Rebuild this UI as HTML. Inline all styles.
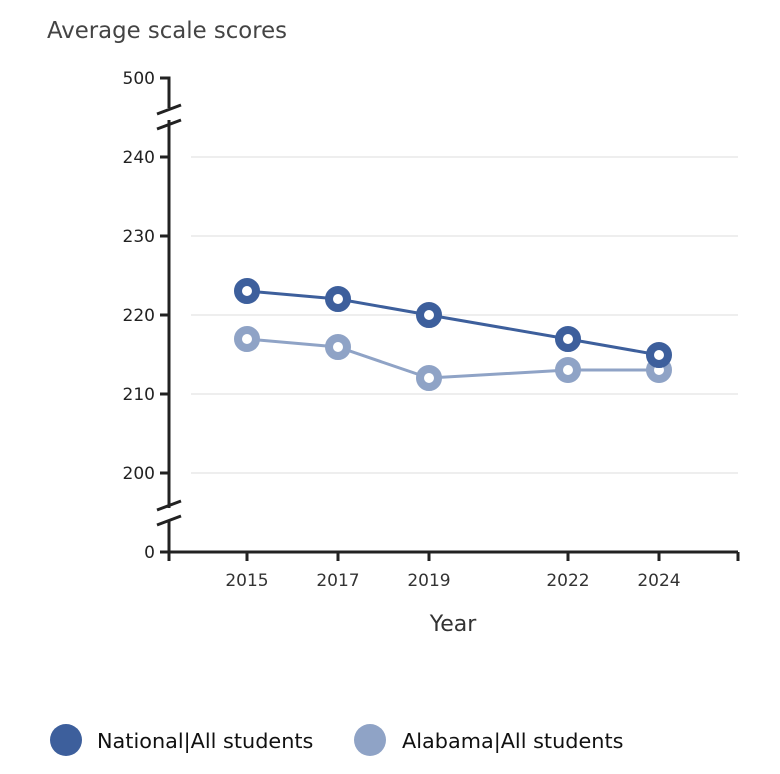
<!DOCTYPE html>
<html><head><style>body{margin:0;background:#fff}svg{display:block}</style></head>
<body>
<svg width="780" height="774" viewBox="0 0 780 774" font-family="DejaVu Sans, Liberation Sans, sans-serif">
<text x="47" y="38" font-size="22.8" fill="#444">Average scale scores</text>
<g stroke="#ddd" stroke-width="1">
<line x1="191" y1="157" x2="738" y2="157"/><line x1="191" y1="236" x2="738" y2="236"/>
<line x1="191" y1="315" x2="738" y2="315"/><line x1="191" y1="394" x2="738" y2="394"/>
<line x1="191" y1="473" x2="738" y2="473"/>
</g>
<g stroke="#222" stroke-width="3" fill="none">
<path d="M160 78 H169 V108 M169 120 V508 M169 520 V552"/>
<line x1="157" y1="114" x2="181" y2="105"/><line x1="157" y1="129" x2="181" y2="120"/>
<line x1="157" y1="510" x2="181" y2="501"/><line x1="157" y1="525" x2="181" y2="516"/>
<line x1="160" y1="157" x2="169" y2="157"/><line x1="160" y1="236" x2="169" y2="236"/>
<line x1="160" y1="315" x2="169" y2="315"/><line x1="160" y1="394" x2="169" y2="394"/>
<line x1="160" y1="473" x2="169" y2="473"/><line x1="160" y1="552" x2="738" y2="552"/>
<path d="M169 552v9M247 552v9M338 552v9M429 552v9M568 552v9M659 552v9M738 552v9"/>
</g>
<g font-size="17" fill="#222" text-anchor="end">
<text x="155" y="84">500</text><text x="155" y="163">240</text><text x="155" y="242">230</text>
<text x="155" y="321">220</text><text x="155" y="400">210</text><text x="155" y="479">200</text>
<text x="155" y="558">0</text>
</g>
<g font-size="17" fill="#333" text-anchor="middle">
<text x="247" y="586">2015</text><text x="338" y="586">2017</text><text x="429" y="586">2019</text>
<text x="568" y="586">2022</text><text x="659" y="586">2024</text>
<text x="453" y="631" font-size="22">Year</text>
</g>
<g stroke="#8fa3c6" fill="#fff">
<polyline points="247,339 338,347 429,378 568,370 659,370" stroke-width="3" fill="none"/>
<g stroke-width="8"><circle cx="247" cy="339" r="9"/><circle cx="338" cy="347" r="9"/><circle cx="429" cy="378" r="9"/><circle cx="568" cy="370" r="9"/><circle cx="659" cy="370" r="9"/></g>
</g>
<g stroke="#3d5f9c" fill="#fff">
<polyline points="247,291 338,299 429,315 568,339 659,355" stroke-width="3" fill="none"/>
<g stroke-width="8"><circle cx="247" cy="291" r="9"/><circle cx="338" cy="299" r="9"/><circle cx="429" cy="315" r="9"/><circle cx="568" cy="339" r="9"/><circle cx="659" cy="355" r="9"/></g>
</g>
<circle cx="66" cy="740" r="16" fill="#3d5f9c"/>
<text x="97" y="748" font-size="20.8" fill="#111">National|All students</text>
<circle cx="370" cy="740" r="16" fill="#8fa3c6"/>
<text x="402" y="748" font-size="20.8" fill="#111">Alabama|All students</text>
</svg>
</body></html>
